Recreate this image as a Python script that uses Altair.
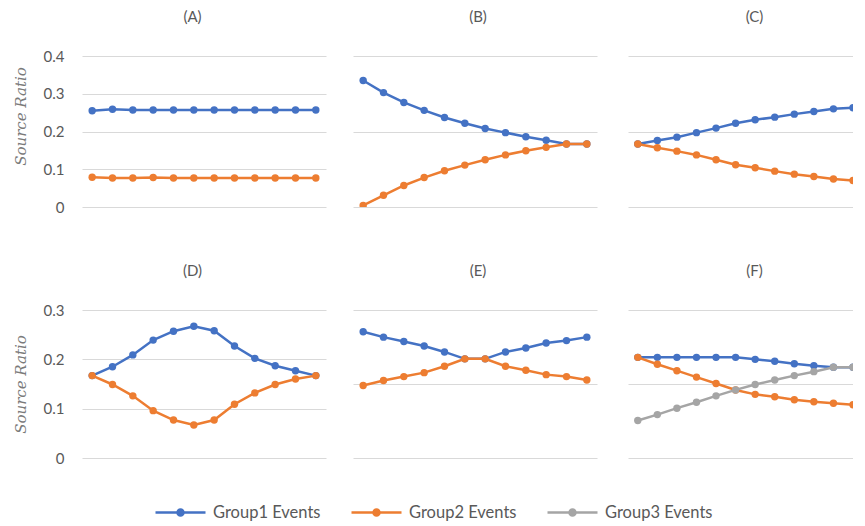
import altair as alt
import pandas as pd

# ---------------- data ----------------
steps = list(range(1, 13))
groups = ["Group1 Events", "Group2 Events", "Group3 Events"]
group_colors = ["#4472C4", "#ED7D31", "#A5A5A5"]

A_g1 = [0.255, 0.259, 0.257, 0.257, 0.257, 0.257, 0.257, 0.257, 0.257, 0.257, 0.257, 0.257]
A_g2 = [0.079, 0.077, 0.077, 0.078, 0.077, 0.077, 0.077, 0.077, 0.077, 0.077, 0.077, 0.077]
B_g1 = [0.335, 0.303, 0.277, 0.256, 0.237, 0.222, 0.208, 0.197, 0.186, 0.177, 0.167, 0.167]
B_g2 = [0.004, 0.031, 0.057, 0.078, 0.096, 0.111, 0.125, 0.138, 0.149, 0.158, 0.167, 0.167]
C_g1 = [0.167, 0.176, 0.185, 0.197, 0.209, 0.222, 0.231, 0.238, 0.246, 0.253, 0.260, 0.263]
C_g2 = [0.167, 0.157, 0.148, 0.138, 0.125, 0.112, 0.104, 0.095, 0.087, 0.081, 0.074, 0.070]
D_g1 = [0.167, 0.185, 0.209, 0.239, 0.257, 0.267, 0.258, 0.227, 0.202, 0.187, 0.177, 0.167]
D_g2 = [0.167, 0.149, 0.126, 0.096, 0.077, 0.067, 0.077, 0.109, 0.132, 0.149, 0.160, 0.167]
E_g1 = [0.256, 0.245, 0.236, 0.227, 0.215, 0.201, 0.201, 0.215, 0.223, 0.233, 0.238, 0.245]
E_g2 = [0.147, 0.157, 0.165, 0.173, 0.186, 0.201, 0.201, 0.186, 0.178, 0.169, 0.165, 0.158]
F_g1 = [0.204, 0.204, 0.204, 0.204, 0.204, 0.204, 0.200, 0.196, 0.191, 0.187, 0.184, 0.184]
F_g2 = [0.204, 0.190, 0.177, 0.164, 0.151, 0.138, 0.129, 0.124, 0.118, 0.114, 0.111, 0.108]
F_g3 = [0.076, 0.088, 0.101, 0.113, 0.126, 0.138, 0.149, 0.158, 0.167, 0.175, 0.184, 0.184]

panel_series = {
    "A": [A_g1, A_g2],
    "B": [B_g1, B_g2],
    "C": [C_g1, C_g2],
    "D": [D_g1, D_g2],
    "E": [E_g1, E_g2],
    "F": [F_g1, F_g2, F_g3],
}

rows = []
for p, series in panel_series.items():
    for gi, vals in enumerate(series):
        for s, v in zip(steps, vals):
            rows.append({"panel": p, "group": groups[gi], "step": s, "value": v})
df = pd.DataFrame(rows)

# ---------------- styling ----------------
TXT = "#595959"
GRID = "#D9D9D9"
sym_path = ("M-2.5,0L2.5,0"
            "M-0.3,0A0.3,0.3,0,1,1,0.3,0A0.3,0.3,0,1,1,-0.3,0"
            "M-0.12,0A0.12,0.12,0,1,1,0.12,0A0.12,0.12,0,1,1,-0.12,0")

legend = alt.Legend(
    title=None, orient="none", direction="horizontal",
    legendX=87, legendY=445,
    symbolType=sym_path, symbolSize=400, symbolStrokeWidth=2.5,
    labelFont="Lato", labelFontSize=16.5, labelColor=TXT, labelOffset=21,
    columnPadding=25, padding=0,
)
color = alt.Color("group:N", scale=alt.Scale(domain=groups, range=group_colors), legend=legend)


def panel(name, ymax, ticks, left, width, xmax, height, title_y=None, dx=0):
    if left:
        axis_kw = dict(values=ticks, title="Source Ratio", titleFont="DejaVu Serif",
                       titleFontStyle="italic", titleFontWeight="normal", titleFontSize=15,
                       titleColor="#7A7A7A", titlePadding=15,
                       labelFont="Lato", labelFontSize=15, labelColor=TXT, labelPadding=18,
                       labelExpr="datum.value == 0 ? '0' : format(datum.value, '.1f')",
                       ticks=False, domain=False, grid=True, gridColor=GRID, gridWidth=1)
        if title_y is not None:
            axis_kw["titleY"] = title_y
        axis = alt.Axis(**axis_kw)
    else:
        axis = alt.Axis(values=ticks, title=None, labels=False, ticks=False, domain=False,
                        grid=True, gridColor=GRID, gridWidth=1)
    base = alt.Chart(df).transform_filter(alt.datum.panel == name)
    layers = []
    n = len(panel_series[name])
    for gi in range(n):
        g = groups[gi]
        layers.append(
            base.transform_filter(alt.datum.group == g)
            .mark_line(strokeWidth=2.5, clip=True,
                       point=alt.OverlayMarkDef(filled=True, size=55, opacity=1, clip=True))
            .encode(
                x=alt.X("step:Q", scale=alt.Scale(domain=[0.5, xmax], nice=False, zero=False), axis=None),
                y=alt.Y("value:Q", scale=alt.Scale(domain=[0, ymax], nice=False), axis=axis),
                color=color,
            )
        )
    offset = 24 if left else 31
    return alt.layer(*layers).properties(
        width=width, height=height,
        title=alt.TitleParams(f"({name})", font="Lato", fontSize=15, fontWeight="normal",
                              color=TXT, offset=offset, frame="group", dx=dx),
    )


top_ticks_left = [0, 0.1, 0.2, 0.3, 0.4]
top_ticks = [0, 0.2, 0.4]
bot_ticks_left = [0, 0.1, 0.2, 0.3]
bot_ticks = [0, 0.15, 0.3]

pA = panel("A", 0.4, top_ticks_left, True, 244, 12.5, 151, title_y=60, dx=-11.5)
pB = panel("B", 0.4, top_ticks, False, 244, 12.5, 151, dx=3)
pC = panel("C", 0.4, top_ticks, False, 225, 12.0, 151, dx=14)
pD = panel("D", 0.3, bot_ticks_left, True, 244, 12.5, 148, dx=-11.5)
pE = panel("E", 0.3, bot_ticks, False, 244, 12.5, 148, dx=3)
pF = panel("F", 0.3, bot_ticks, False, 225, 12.0, 148, dx=14)

row1 = alt.hconcat(alt.hconcat(pA, pB, spacing=27), pC, spacing=31)
row2 = alt.hconcat(alt.hconcat(pD, pE, spacing=27), pF, spacing=31)

chart = (
    alt.vconcat(row1, row2, spacing=49)
    .properties(padding={"left": 5, "top": 2, "right": 0, "bottom": 0}, background="white")
    .configure_view(stroke=None)
)

chart.save("out.html", embed_options={"renderer": "svg", "actions": False})
